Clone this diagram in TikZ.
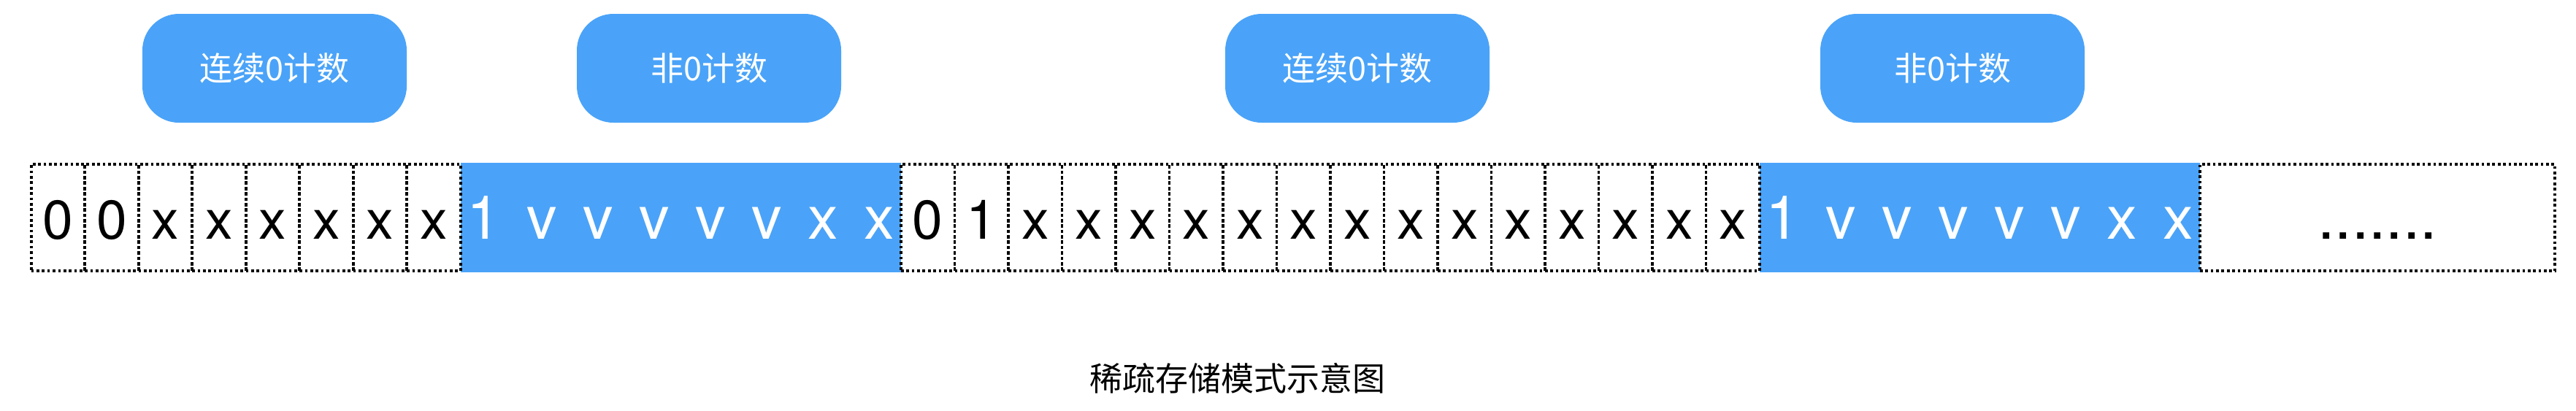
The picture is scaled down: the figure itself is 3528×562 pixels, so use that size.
\documentclass[tikz,border=0pt]{standalone}
\usepackage{fontspec}
\setmainfont{TeX Gyre Heros}
\newfontfamily\cjk{Noto Sans CJK SC}
\definecolor{cblue}{HTML}{4AA3F8}
\begin{document}
\begin{tikzpicture}[x=0.25pt,y=-0.25pt,
  cell/.style={draw=black, line width=0.95pt, dash pattern=on 0.92pt off 0.92pt,
    minimum width=18.375pt, minimum height=36.5pt, inner sep=0pt, outer sep=0pt,
    text height=14.5pt, text depth=0pt, font=\fontsize{18.75pt}{20pt}\selectfont},
  seg/.style={fill=cblue, minimum width=150.75pt, minimum height=37.5pt, inner sep=0pt,
    outer sep=0pt, text=white, text height=14.5pt, text depth=0pt,
    font=\fontsize{20.75pt}{24pt}\selectfont},
  cnt/.style={fill=cblue, rounded corners=12.5pt, minimum width=90.5pt,
    minimum height=37.25pt, inner sep=0pt, text=white,
    font=\cjk\fontsize{11.25pt}{13pt}\selectfont},
  captext/.style={font=\cjk\fontsize{11.25pt}{13pt}\selectfont, inner sep=0pt}]
\useasboundingbox (0,0) rectangle (3528,562);

% counters above
\node[cnt] (k1) at (376,93.5) {连续0计数};
\node[cnt] (k2) at (971,93.5) {非0计数};
\node[cnt] (k3) at (1859,93.5) {连续0计数};
\node[cnt] (k4) at (2674,93.5) {非0计数};

% blue value segments
\node[seg] (s1) at (932.5,298) {\spaceskip=8.9pt\relax 1 v v v v v x x};
\node[seg] (s2) at (2711.5,298) {\spaceskip=8.9pt\relax 1 v v v v v x x};

% cells group A
\foreach \lbl [count=\i] in {0,0,x,x,x,x,x,x}
  \node[cell] (a\i) at ({42.7+73.5*(\i-0.5)},298) {\lbl};

% cells group B
\foreach \lbl [count=\i] in {0,1,x,x,x,x,x,x,x,x,x,x,x,x,x,x}
  \node[cell] (b\i) at ({1234+73.5*(\i-0.5)},298) {\lbl};

% end box
\node[cell, minimum width=121.5pt, font=\fontsize{21pt}{24pt}\selectfont] (e) at (3256,298) {.......};

% caption
\node[captext] (c) at (1695,518) {稀疏存储模式示意图};
\end{tikzpicture}
\end{document}
